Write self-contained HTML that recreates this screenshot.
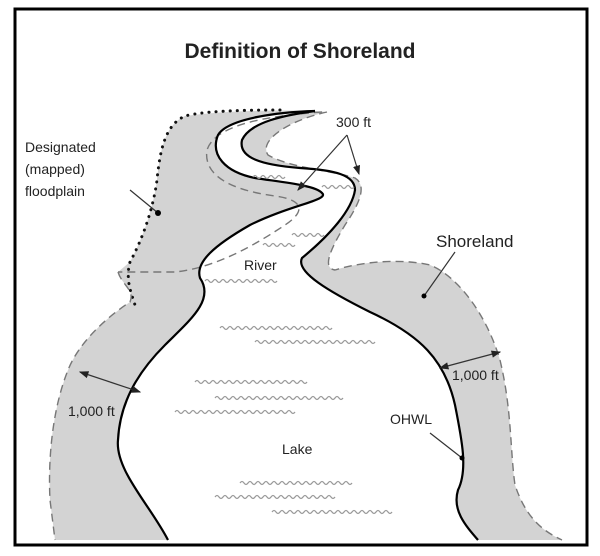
<!DOCTYPE html>
<html><head><meta charset="utf-8"><style>
html,body{margin:0;padding:0;background:#fff;width:600px;height:556px;overflow:hidden}
svg{display:block}
text{font-family:"Liberation Sans",Arial,sans-serif;fill:#222}
</style></head><body>
<svg id="s" width="600" height="556" viewBox="0 0 600 556">
<rect x="15" y="9" width="572" height="536" fill="#fff" stroke="#000" stroke-width="3"/>
<text x="300" y="58" font-size="21" font-weight="bold" text-anchor="middle" fill="#111">Definition of Shoreland</text>
<path d="M168,540 C150,505 115,470 118,440 C120,400 140,370 165,345 C190,320 215,300 200,278 C195,262 215,245 250,225 C290,205 330,200 322,193 C315,185 280,182 255,178 C225,172 210,155 218,135 C228,118 280,112 315,111 C280,110 230,110 185,116 C165,125 160,150 157,180 C153,210 142,240 130,262 L118,272 C122,285 135,290 130,302 C110,315 80,340 68,370 C52,410 48,460 50,500 L55,540 Z" fill="#d3d3d3"/>
<path d="M315,111 C285,115 250,122 242,140 C238,158 262,165 300,168 C335,170 355,175 355,190 C352,210 330,235 302,258 C295,272 330,292 370,312 C420,335 445,360 455,405 C462,440 468,470 458,490 C452,510 465,525 478,540 L562,540 C540,530 525,515 515,485 C510,450 512,410 500,360 C485,310 455,275 430,265 C400,258 360,262 335,270 C322,268 330,250 345,225 C362,200 366,185 355,178 C330,170 290,168 268,155 C258,140 290,120 327,112 Z" fill="#d3d3d3"/>
<path d="M280,110 C230,110 200,112 185,116 C165,125 160,150 157,180 C153,210 142,240 130,262 C125,280 132,295 135,305" fill="none" stroke="#111" stroke-width="3" stroke-dasharray="0.1 7" stroke-linecap="round"/>
<g fill="none" stroke="#777" stroke-width="1.4" stroke-dasharray="8 5">
<path d="M322,112 C265,116 215,125 207,150 C203,175 230,190 275,196 C305,200 305,212 285,225 C255,245 215,268 175,272 L118,272"/>
<path d="M327,112 C290,120 258,140 268,155 C290,168 330,170 355,178 C366,185 362,200 345,225 C330,250 322,268 335,270 C360,262 400,258 430,265 C455,275 485,310 500,360 C512,410 510,450 515,485 C525,515 540,530 562,540"/>
<path d="M118,272 C122,285 135,290 130,302 C110,315 80,340 68,370 C52,410 48,460 50,500 L55,540"/>
</g>
<g fill="none" stroke="#000" stroke-width="2.2">
<path d="M168,540 C150,505 115,470 118,440 C120,400 140,370 165,345 C190,320 215,300 200,278 C195,262 215,245 250,225 C290,205 330,200 322,193 C315,185 280,182 255,178 C225,172 210,155 218,135 C228,118 280,112 315,111"/>
<path d="M315,111 C285,115 250,122 242,140 C238,158 262,165 300,168 C335,170 355,175 355,190 C352,210 330,235 302,258 C295,272 330,292 370,312 C420,335 445,360 455,405 C462,440 468,470 458,490 C452,510 465,525 478,540"/>
</g>
<g id="w" fill="none" stroke="#999" stroke-width="1.2"></g>
<defs><marker id="a" markerWidth="8" markerHeight="8" refX="7" refY="4" orient="auto"><path d="M0,1 L8,4 L0,7 Z" fill="#222"/></marker></defs>
<g stroke="#333" stroke-width="1.2" fill="none">
<path d="M110,382 L140,392" marker-end="url(#a)"/><path d="M110,382 L80,372" marker-end="url(#a)"/>
<path d="M470,360 L500,352" marker-end="url(#a)"/><path d="M470,360 L440,368" marker-end="url(#a)"/>
<path d="M347,135 L298,190" marker-end="url(#a)"/><path d="M347,135 L359,174" marker-end="url(#a)"/>
<path d="M130,190 L158,213"/><path d="M455,252 L424,296"/><path d="M430,433 L462,458"/>
</g>
<circle cx="158" cy="213" r="3" fill="#000"/><circle cx="424" cy="296" r="2.5" fill="#000"/><circle cx="462" cy="458" r="2.5" fill="#000"/>
<g font-size="14">
<text x="336" y="127">300 ft</text>
<text x="25" y="152">Designated</text><text x="25" y="174">(mapped)</text><text x="25" y="196">floodplain</text>
<text x="244" y="270">River</text>
<text x="68" y="416">1,000 ft</text><text x="452" y="380">1,000 ft</text>
<text x="390" y="424">OHWL</text><text x="282" y="454">Lake</text>
</g>
<text x="436" y="247" font-size="17">Shoreland</text>
</svg>
<script>
var L=[[220,328,330],[255,342,372],[195,382,307],[215,398,336],[175,412,288],[240,483,352],[215,497,335],[272,512,392],[205,281,273],[253,177,280],[322,187,348],[292,235,318],[263,245,295]];
var g=document.getElementById('w'),d='';
L.forEach(function(l){var x=l[0],y=l[1];d+='M'+x+','+y;while(x<l[2]){d+=' q2,-3 4,0 q2,3 4,0';x+=8;}});
var p=document.createElementNS('http://www.w3.org/2000/svg','path');p.setAttribute('d',d);g.appendChild(p);
</script>
</body></html>
